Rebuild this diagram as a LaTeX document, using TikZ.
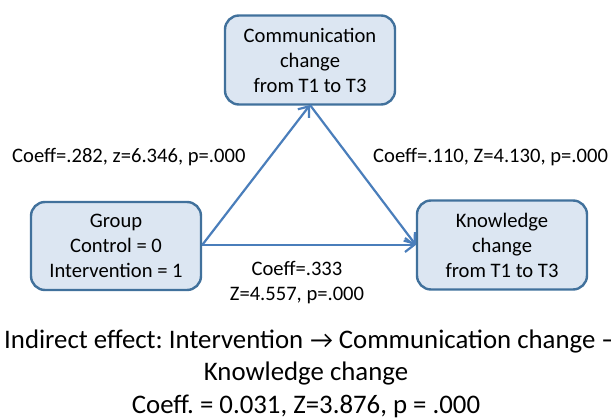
\documentclass[tikz,border=0pt]{standalone}
\usepackage{fontspec}
\setmainfont{Carlito}
\usetikzlibrary{arrows.meta}
\definecolor{boxfill}{HTML}{DCE6F2}
\definecolor{boxline}{HTML}{41719C}
\definecolor{arrowc}{HTML}{4A7EBB}
\newcommand{\smallarr}{\hspace{7pt}{\fontsize{25}{25}\selectfont →}\hspace{6pt}}
\frenchspacing
\begin{document}
\begin{tikzpicture}[x=1pt,y=-1pt,
  box/.style={draw=boxline,fill=boxfill,line width=2.4pt,rounded corners=14pt,align=center,font=\fontsize{20.6}{25}\selectfont,inner sep=0pt},
  conn/.style={draw=arrowc,line width=2.2pt,-{Straight Barb[length=9pt,width=14pt,line width=2.2pt]}},
  lab/.style={font=\fontsize{20.6}{25}\selectfont,align=center,inner sep=0pt},
  big/.style={font=\fontsize{26.8}{32}\selectfont,align=center,inner sep=0pt}]
\useasboundingbox (0,0) rectangle (611,419);
\node[box,minimum width=170pt,minimum height=89pt] (comm) at (310,60) {Communication\\change\\from T1 to T3};
\node[box,minimum width=170pt,minimum height=88pt] (grp) at (116,246) {Group\\Control = 0\\Intervention = 1};
\node[box,minimum width=170pt,minimum height=89pt] (know) at (502,245) {Knowledge\\change\\from T1 to T3};
\coordinate (gr) at (grp.east |- 0,245);
\coordinate (kl) at (know.west |- 0,245);
\coordinate (cb) at (310,105);
\draw[conn] (gr) -- (cb);
\draw[conn] (cb) -- (kl);
\draw[conn] (gr) -- (kl);
\node[lab,anchor=west] (l1) at (12,157) {Coeff=.282, z=6.346, p=.000};
\node[lab,anchor=west] (l2) at (373,157) {Coeff=.110, Z=4.130, p=.000};
\node[lab] (l3) at (297,283) {Coeff=.333\\Z=4.557, p=.000};
\node[big,anchor=west] (b1) at (4,342) {Indirect effect: Intervention\smallarr Communication change\smallarr};
\node[big] (b2) at (306,374) {Knowledge change};
\node[big] (b3) at (306,406) {Coeff. = 0.031, Z=3.876, p = .000};
\end{tikzpicture}
\end{document}
